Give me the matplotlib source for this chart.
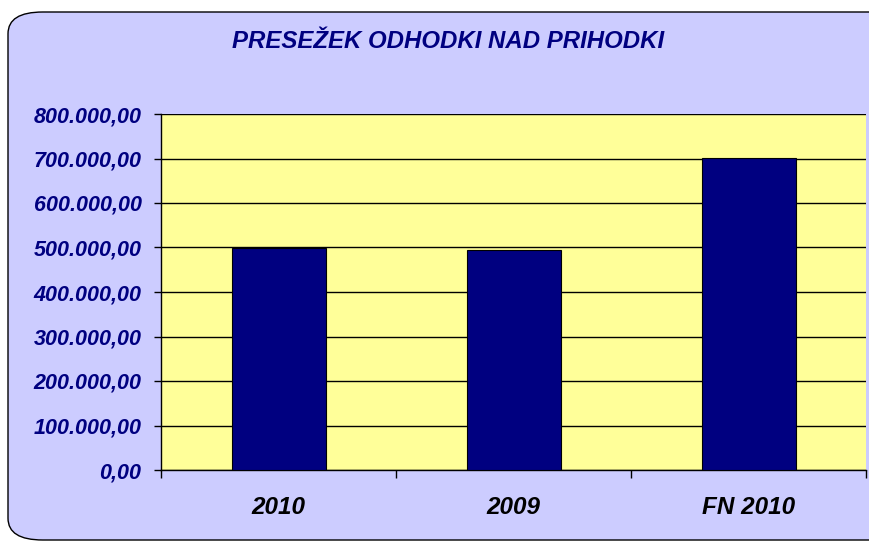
import numpy as np
import matplotlib
matplotlib.use('Agg')
import matplotlib.pyplot as plt
from matplotlib.patches import FancyBboxPatch
from matplotlib.ticker import FuncFormatter

kategorije = ['2010', '2009', 'FN 2010']
vrednosti = [499000, 494000, 702000]
y_oznake = [0, 100000, 200000, 300000, 400000, 500000, 600000, 700000, 800000]

plt.rcParams['font.family'] = ['Liberation Sans', 'DejaVu Sans']

fig = plt.figure(figsize=(8.69, 5.43), dpi=100)
fig.patch.set_facecolor('white')

# ozadje z zaobljenimi robovi
ozadje = FancyBboxPatch((8 / 869, 3 / 543), 900 / 869, 528 / 543,
                        boxstyle='round,pad=0,rounding_size=0.04',
                        transform=fig.transFigure, facecolor='#CCCCFF',
                        edgecolor='black', linewidth=1.0, zorder=-5)
fig.patches.append(ozadje)

ax = fig.add_axes([161 / 869, 73 / 543, 705 / 869, 356 / 543])
ax.set_zorder(2)
ax.set_facecolor('#FFFF99')

x = np.arange(len(kategorije))
ax.bar(x, vrednosti, width=0.40, color='#000080', edgecolor='black',
       linewidth=0.8, zorder=3)

ax.set_xlim(-0.5, len(kategorije) - 0.5)
ax.set_ylim(0, 800000)
ax.set_yticks(y_oznake)
ax.yaxis.set_major_formatter(FuncFormatter(
    lambda v, p: '{:,.2f}'.format(v).replace(',', ' ').replace('.', ',').replace(' ', '.')))
ax.grid(axis='y', color='black', linewidth=1.0, zorder=1)
ax.set_axisbelow(True)

for t in ax.get_yticklabels():
    t.set_fontweight('bold')
    t.set_fontstyle('italic')
    t.set_color('#000080')
    t.set_fontsize(15.5)
ax.tick_params(axis='y', length=5, width=1, pad=9, color='black')

ax.set_xticks(x)
ax.set_xticklabels(kategorije, fontweight='bold', fontstyle='italic',
                   fontsize=17.5, color='black')
ax.tick_params(axis='x', length=0, pad=19)
ax.set_xticks(np.arange(len(kategorije) + 1) - 0.5, minor=True)
ax.tick_params(axis='x', which='minor', length=6, width=1, color='black')

for s in ['top', 'right']:
    ax.spines[s].set_visible(False)
ax.spines['left'].set_linewidth(1.0)
ax.spines['bottom'].set_linewidth(1.0)

fig.text(448 / 869, 1 - 42 / 543, 'PRESEŽEK ODHODKI NAD PRIHODKI',
         ha='center', va='center', fontsize=17.3, fontweight='bold',
         fontstyle='italic', color='#000080')

fig.savefig('out.png', dpi=100, facecolor=fig.get_facecolor())
